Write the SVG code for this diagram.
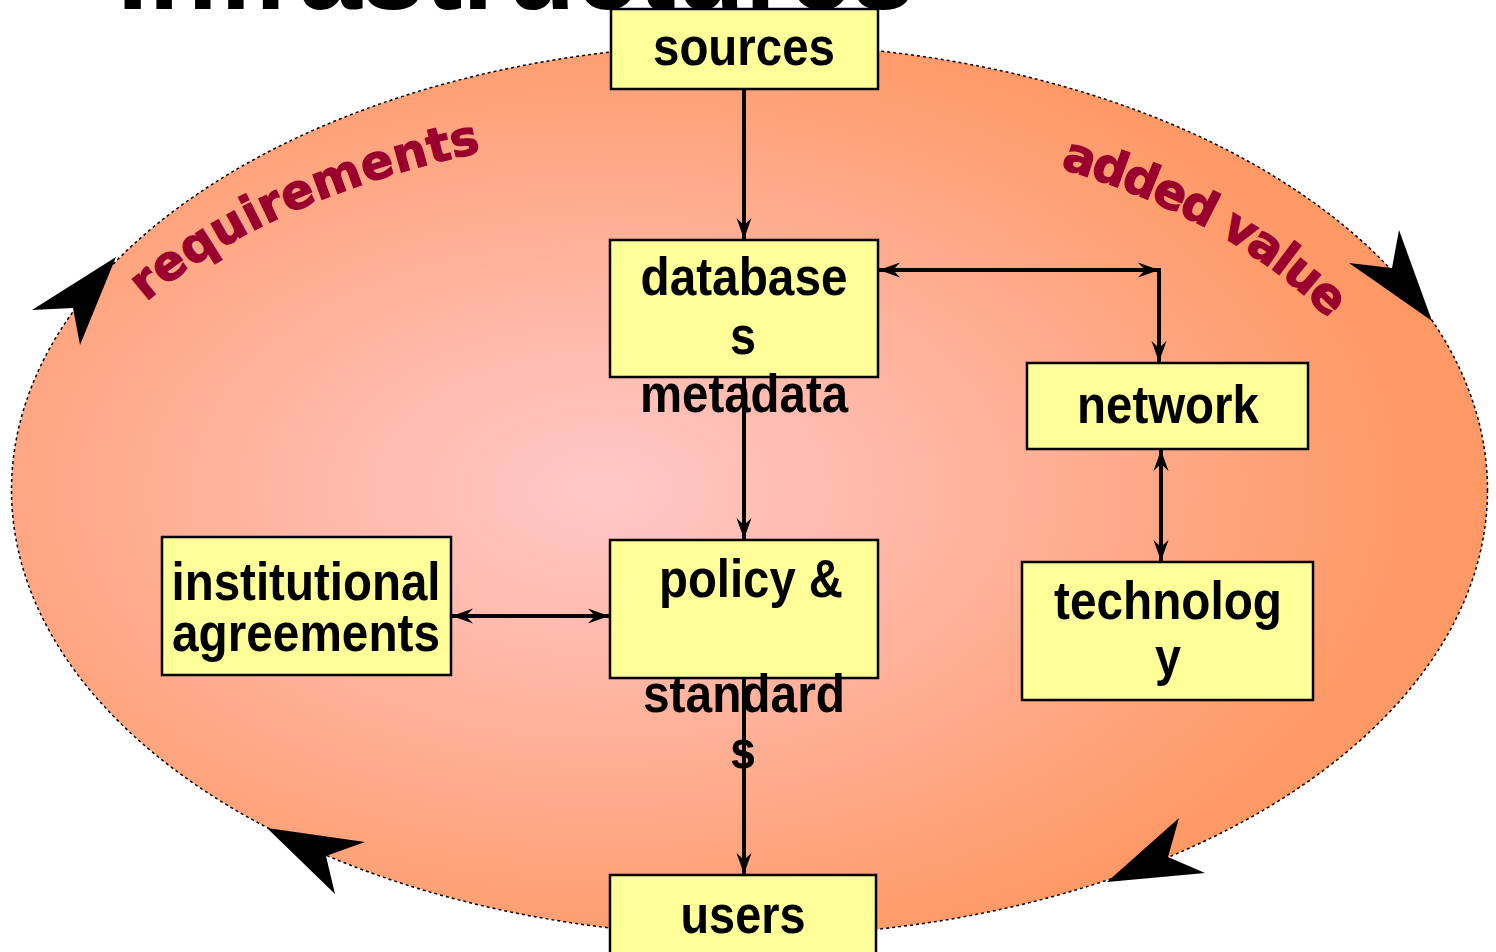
<svg xmlns="http://www.w3.org/2000/svg" width="1496" height="952" viewBox="0 0 1496 952">
<defs>
<radialGradient id="bg" cx="0.4" cy="0.5" r="0.55" fx="0.4" fy="0.5">
<stop offset="0" stop-color="#FFC8C8"/>
<stop offset="0.35" stop-color="#FFB8A8"/>
<stop offset="1" stop-color="#FE9966"/>
</radialGradient>
<marker id="ah" markerUnits="userSpaceOnUse" markerWidth="26" markerHeight="20" viewBox="-23 -10 25 20" refX="0" refY="0" orient="auto-start-reverse">
<path d="M0,0 L-21,-7.5 L-14,0 L-21,7.5 Z" fill="#000"/>
</marker>
<path id="pReq" d="M146,302 A700,365 0 0 1 749,125"/>
<path id="pAdd" d="M1060,168 A655,365 0 0 1 1404,490"/>
</defs>
<style>
.box{fill:#FFFF99;stroke:#000;stroke-width:2.5}
.lbl{font-family:"Liberation Sans",Arial,sans-serif;font-weight:bold;font-size:54px;fill:#000;text-anchor:middle}
.conn{fill:none;stroke:#000;stroke-width:4}
.big{fill:#000}
.arc{font-family:"DejaVu Sans",sans-serif;font-weight:bold;font-size:48px;fill:#99002E;stroke:#99002E;stroke-width:1.2}
</style>
<text x="117" y="9" font-family="Liberation Sans, Arial, sans-serif" font-weight="bold" font-size="113" fill="#000">Infrastructures</text>
<ellipse cx="749.5" cy="490" rx="738" ry="446" fill="url(#bg)" stroke="#000" stroke-width="1.5" stroke-dasharray="3 3"/>
<g id="cycle-arrows">
<polygon class="big" points="116,257 32,310 73,308 80,345"/>
<polygon class="big" points="1399,230 1432,321 1349,263 1392,268"/>
<polygon class="big" points="1179,818 1168,857 1205,873 1107,882"/>
<polygon class="big" points="267,828 365,842 326,856 335,894"/>
</g>
<g id="cycle-labels">
<text class="arc" letter-spacing="0.5"><textPath href="#pReq">requirements</textPath></text>
<text class="arc" letter-spacing="-2"><textPath href="#pAdd">added value</textPath></text>
</g>
<g id="sources">
<rect class="box" x="611" y="9" width="267" height="80"/>
<text class="lbl" x="744" y="65" textLength="182" lengthAdjust="spacingAndGlyphs">sources</text>
</g>
<g id="databases">
<rect class="box" x="610" y="240" width="268" height="137"/>
<text class="lbl" x="744" y="295" textLength="207" lengthAdjust="spacingAndGlyphs">database</text>
<text class="lbl" x="743" y="354" textLength="26" lengthAdjust="spacingAndGlyphs">s</text>
<text class="lbl" x="744" y="412" textLength="208" lengthAdjust="spacingAndGlyphs">metadata</text>
</g>
<g id="network">
<rect class="box" x="1027" y="363" width="281" height="86"/>
<text class="lbl" x="1168" y="423" textLength="182" lengthAdjust="spacingAndGlyphs">network</text>
</g>
<g id="technology">
<rect class="box" x="1022" y="562" width="291" height="138"/>
<text class="lbl" x="1168" y="619" textLength="228" lengthAdjust="spacingAndGlyphs">technolog</text>
<text class="lbl" x="1168" y="675" textLength="26" lengthAdjust="spacingAndGlyphs">y</text>
</g>
<g id="policy">
<rect class="box" x="610" y="540" width="268" height="138"/>
<text class="lbl" x="751" y="597" textLength="184" lengthAdjust="spacingAndGlyphs">policy &amp;</text>
<text class="lbl" x="744" y="712" textLength="202" lengthAdjust="spacingAndGlyphs">standard</text>
<text class="lbl" x="743" y="768" textLength="26" lengthAdjust="spacingAndGlyphs">s</text>
</g>
<g id="institutional">
<rect class="box" x="162" y="537" width="289" height="138"/>
<text class="lbl" x="306" y="600" textLength="269" lengthAdjust="spacingAndGlyphs">institutional</text>
<text class="lbl" x="306" y="651" textLength="268" lengthAdjust="spacingAndGlyphs">agreements</text>
</g>
<g id="users">
<rect class="box" x="610" y="875" width="266" height="90"/>
<text class="lbl" x="743" y="933" textLength="125" lengthAdjust="spacingAndGlyphs">users</text>
</g>
<g id="connectors">
<path class="conn" d="M744,89 V239" marker-end="url(#ah)"/>
<path class="conn" d="M744,377 V539" marker-end="url(#ah)"/>
<path class="conn" d="M744,678 V874" marker-end="url(#ah)"/>
<path class="conn" d="M879,270 H1159" marker-start="url(#ah)" marker-end="url(#ah)"/>
<path class="conn" d="M1159,268 V362" marker-end="url(#ah)"/>
<path class="conn" d="M1161,450 V561" marker-start="url(#ah)" marker-end="url(#ah)"/>
<path class="conn" d="M452,616 H609" marker-start="url(#ah)" marker-end="url(#ah)"/>
</g>
</svg>
